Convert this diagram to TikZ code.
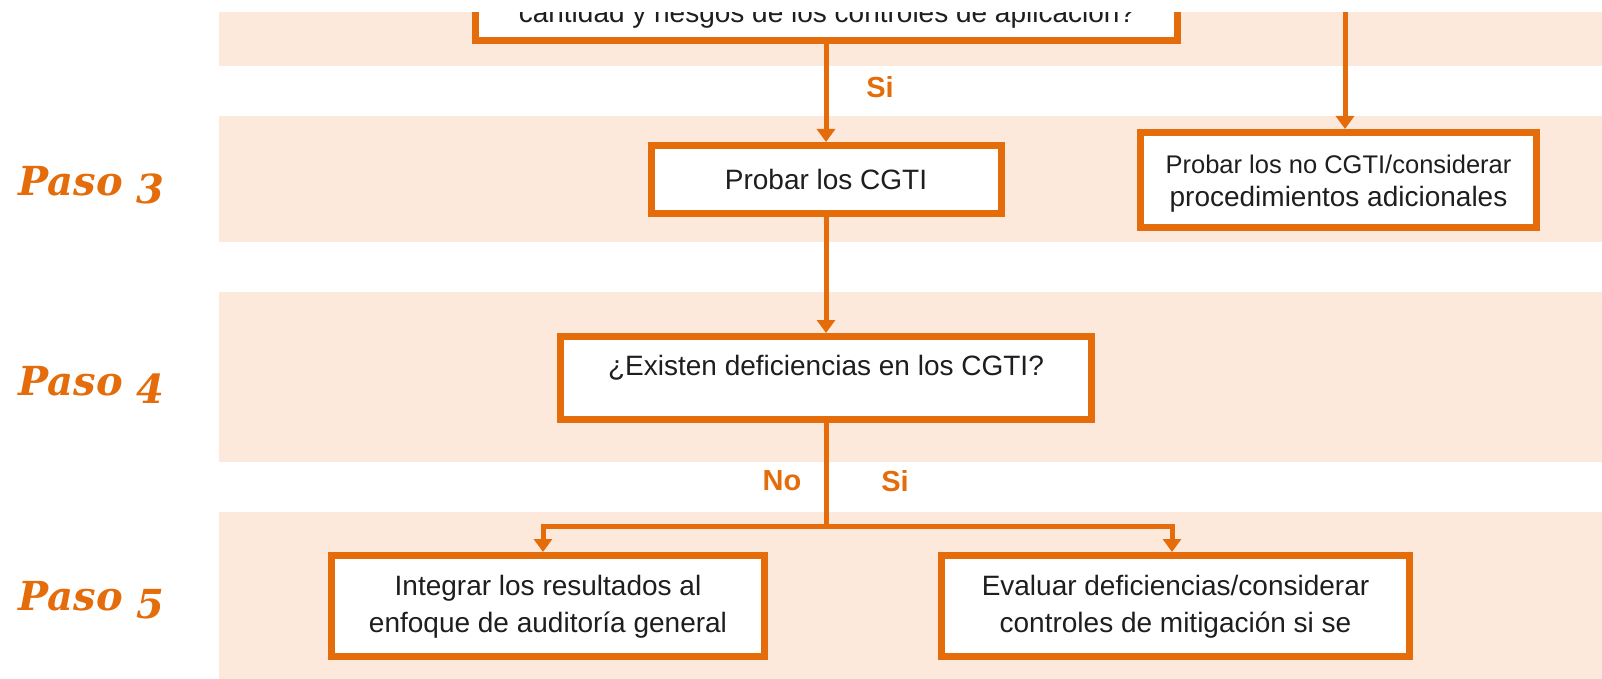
\documentclass[tikz,border=0pt]{standalone}
\usepackage{fontspec}
\setmainfont{Liberation Sans}
\newfontfamily\pasofont{DejaVu Serif}
\usetikzlibrary{arrows.meta}
\definecolor{org}{RGB}{228,108,10}
\definecolor{bandc}{RGB}{252,233,219}
\definecolor{ink}{RGB}{30,30,30}
\begin{document}
\begin{tikzpicture}[x=1pt,y=-1pt,
  box/.style={draw=org, line width=7pt, fill=white, inner sep=0pt},
  txt/.style={text=ink, font=\fontsize{28}{36.5}\selectfont, align=center, inner sep=0pt},
  lbl/.style={text=org, font=\bfseries\fontsize{29}{33}\selectfont, inner sep=0pt},
  paso/.style={text=org, font=\pasofont\bfseries\itshape\fontsize{40}{44}\selectfont, anchor=base east, inner sep=0pt},
  conn/.style={draw=org, line width=5pt},
  arr/.style={conn, -{Triangle[width=18pt,length=13pt]}},
]
\useasboundingbox (0,0) rectangle (1602,679);
\clip (0,0) rectangle (1602,679);
% bands
\fill[bandc] (219,0) rectangle (1602,66);
\fill[bandc] (219,116) rectangle (1602,242);
\fill[bandc] (219,292) rectangle (1602,462);
\fill[bandc] (219,512) rectangle (1602,679);
% step labels
\node[paso] (s3) at (165,196) {Paso \raisebox{-0.2em}{3}};
\node[paso] (s4) at (165,395) {Paso \raisebox{-0.2em}{4}};
\node[paso] (s5) at (165,610) {Paso \raisebox{-0.2em}{5}};
% boxes
\node[box, minimum width=702pt, minimum height=97pt] (q) at (826,-8) {};
\node[txt, anchor=base] (qt) at (827,23) {cantidad y riesgos de los controles de aplicación?};
\node[box, minimum width=350pt, minimum height=68pt] (p3) at (826,179.5) {};
\node[txt] (p3t) at (p3.center) {Probar los CGTI};
\node[box, minimum width=396pt, minimum height=95pt] (p3b) at (1338.5,180) {};
\node[txt, font=\fontsize{28}{33}\selectfont] (p3bt) at ([yshift=-4pt]p3b.center) {{\fontsize{25.5}{33}\selectfont Probar los no CGTI/considerar}\\procedimientos adicionales};
\node[box, minimum width=531pt, minimum height=83pt] (p4) at (826,378) {};
\node[txt] (p4t) at ([yshift=10pt]p4.center) {¿Existen deficiencias en los CGTI?};
\node[box, minimum width=433pt, minimum height=101pt] (p5a) at (548,606) {};
\node[txt] (p5at) at ([yshift=-1pt]p5a.center) {Integrar los resultados al\\enfoque de auditoría general};
\node[box, minimum width=468pt, minimum height=101pt] (p5b) at (1175.5,606) {};
\node[txt] (p5bt) at ([yshift=-1pt]p5b.center) {Evaluar deficiencias/considerar\\controles de mitigación si se};
% connectors
\coordinate (rt) at (1345,0);
\coordinate (sp) at (826,526);
\draw[arr] (q.south) -- (p3.north);
\draw[arr] (rt) -- (rt |- p3b.north);
\draw[arr] (p3.south) -- (p4.north);
\draw[conn] (p4.south) -- (sp);
\draw[arr] (sp) -| ([xshift=-5pt]p5a.north);
\draw[arr] (sp) -| ([xshift=-3.5pt]p5b.north);
% connector labels
\node[lbl] (si1) at (880,87) {Si};
\node[lbl] (no2) at (782,481) {No};
\node[lbl] (si2) at (895,481) {Si};
% top white strip
\fill[white] (0,0) rectangle (1602,12);
\end{tikzpicture}
\end{document}
